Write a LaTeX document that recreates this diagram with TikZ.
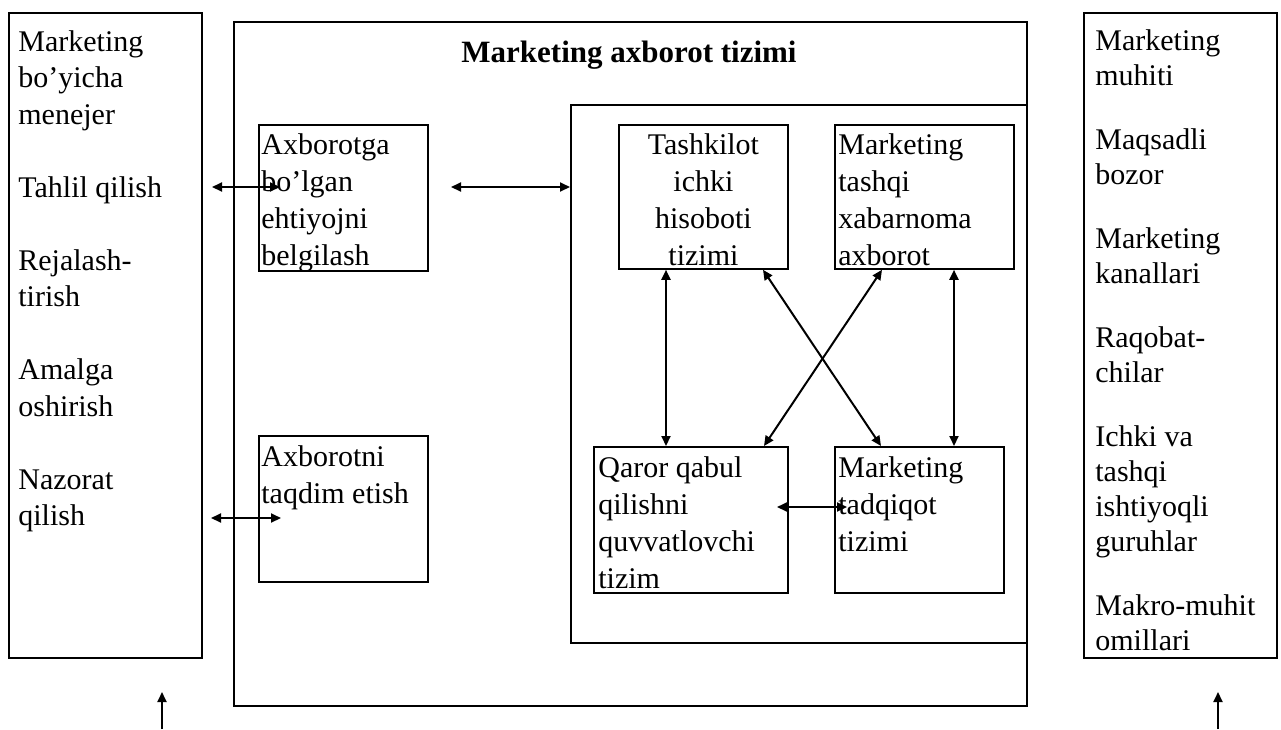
\documentclass[tikz,border=0pt]{standalone}
\usepackage{fontspec}
\setmainfont{Liberation Serif}
\usetikzlibrary{arrows.meta}

\tikzset{
  frame/.style={draw, line width=0.9pt, inner sep=0pt, anchor=north west},
  txt/.style={inner sep=0pt, anchor=north west, align=left, font=\fontsize{15}{18.5}\selectfont},
  link/.style={line width=1pt, {Triangle[length=5pt,width=4.5pt]}-{Triangle[length=5pt,width=4.5pt]}},
  uparrow/.style={line width=1pt, -{Triangle[length=5pt,width=4.5pt]}}
}

\begin{document}
\begin{tikzpicture}[x=0.5pt,y=-0.5pt]
    \useasboundingbox (0,0) rectangle (1281,729);

    % frames
    \node[frame, minimum width=96.5pt, minimum height=322.5pt] (mgr) at (8,12) {};
    \node[frame, minimum width=396.5pt, minimum height=342pt] (mis) at (233,21) {};
    \node[frame, minimum width=228pt, minimum height=269pt] (inner) at (570,104) {};
    \node[frame, minimum width=96.5pt, minimum height=322.5pt] (env) at (1083,12) {};

    \node[frame, minimum width=84.5pt, minimum height=73pt] (need) at (258,124) {};
    \node[frame, minimum width=84.5pt, minimum height=73pt] (present) at (258,435) {};
    \node[frame, minimum width=84.5pt, minimum height=72pt] (inrep) at (618,124) {};
    \node[frame, minimum width=89.5pt, minimum height=72pt] (extinf) at (834,124) {};
    \node[frame, minimum width=97pt, minimum height=73pt] (dss) at (593,446) {};
    \node[frame, minimum width=84.5pt, minimum height=73pt] (res) at (834,446) {};

    % texts
    \node[anchor=base, font=\fontsize{15.5}{18}\selectfont\bfseries] (title) at (629,62) {Marketing axborot tizimi};

    \node[txt, font=\fontsize{15}{18.25}\selectfont, xshift=5pt, yshift=-9pt] (mgrt) at (mgr.north west)
        {Marketing\\ bo’yicha\\ menejer\\[18.25pt] Tahlil qilish\\[18.25pt] Rejalash-\\ tirish\\[18.25pt]
         Amalga\\ oshirish\\[18.25pt] Nazorat\\ qilish};
    \node[txt, font=\fontsize{15}{17.5}\selectfont, xshift=6pt, yshift=-8.4pt] (envt) at (env.north west)
        {Marketing\\ muhiti\\[14.5pt] Maqsadli\\ bozor\\[14.5pt] Marketing\\ kanallari\\[14.5pt]
         Raqobat-\\ chilar\\[14.5pt] Ichki va\\ tashqi\\ ishtiyoqli\\ guruhlar\\[14.5pt] Makro-muhit\\ omillari};

    \node[txt, xshift=1.5pt, yshift=-4.5pt] (needt) at (need.north west) {Axborotga\\ bo’lgan\\ ehtiyojni\\ belgilash};
    \node[txt, xshift=1.5pt, yshift=-5pt] (presentt) at (present.north west) {Axborotni\\ taqdim etish};
    \node[txt, anchor=north, align=center, yshift=-4.5pt] (inrept) at (inrep.north) {Tashkilot\\ ichki\\ hisoboti\\ tizimi};
    \node[txt, xshift=2pt, yshift=-4.5pt] (extinft) at (extinf.north west) {Marketing\\ tashqi\\ xabarnoma\\ axborot};
    \node[txt, xshift=2.5pt, yshift=-5pt] (dsst) at (dss.north west) {Qaror qabul\\ qilishni\\ quvvatlovchi\\ tizim};
    \node[txt, xshift=2pt, yshift=-5pt] (rest) at (res.north west) {Marketing\\ tadqiqot\\ tizimi};

    % arrows
    \coordinate (p1) at (212,187);
    \coordinate (p2) at (280,187);
    \coordinate (q1) at (451,187);
    \coordinate (r1) at (211,518);
    \coordinate (r2) at (281,518);
    \coordinate (v1) at (666,300);
    \coordinate (v2) at (954,300);
    \coordinate (d1) at (763,300);
    \coordinate (d2) at (881,300);
    \coordinate (d3) at (882,300);
    \coordinate (d4) at (764,300);
    \coordinate (h1) at (777,507);
    \coordinate (h2) at (847,507);

    \draw[link] (p1) -- (p2);
    \draw[link] (q1) -- (q1 -| inner.west);
    \draw[link] (r1) -- (r2);
    \draw[link] (v1 |- inrep.south) -- (v1 |- dss.north);
    \draw[link] (v2 |- extinf.south) -- (v2 |- res.north);
    \draw[link] (d1 |- inrep.south) -- (d2 |- res.north);
    \draw[link] (d3 |- extinf.south) -- (d4 |- dss.north);
    \draw[link] (h1) -- (h2);

    \coordinate (b1) at (162,729);
    \coordinate (b2) at (162,692);
    \coordinate (c1) at (1218,729);
    \coordinate (c2) at (1218,692);
    \draw[uparrow] (b1) -- (b2);
    \draw[uparrow] (c1) -- (c2);
\end{tikzpicture}
\end{document}
